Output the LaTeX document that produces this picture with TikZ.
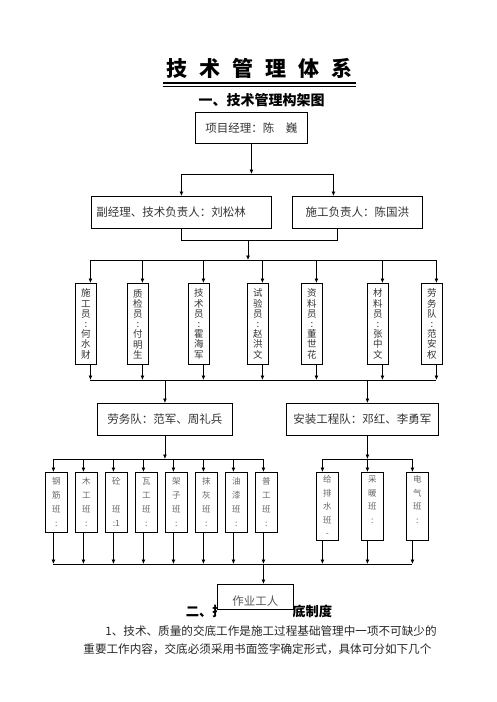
\documentclass[tikz,border=0pt]{standalone}
\usepackage{fontspec}
\usepackage{tikz}
\newfontfamily\cjk{Noto Sans CJK SC}
\usetikzlibrary{positioning,calc,arrows.meta}

\tikzset{
  box/.style={draw, rectangle, inner sep=0pt, anchor=north west, text=black!80,
    font=\cjk\fontsize{11.5}{14}\selectfont},
  vbox/.style={box, minimum width=21pt, minimum height=81pt, align=center,
    font=\cjk\fontsize{9.5}{10.2}\selectfont},
  gbox/.style={box, minimum width=22pt, align=center, text=black!60,
    font=\cjk\fontsize{8.5}{14}\selectfont},
  head/.style={font=\cjk\bfseries\fontsize{#1}{#1}\selectfont},
}

\begin{document}
\begin{tikzpicture}[x=1pt, y=-1pt, line width=0.8pt, >={Latex[length=4.5pt,width=4pt]}]
    \useasboundingbox (0,0) rectangle (496,702);

    \node [head=21] (title) at (259.5,68) {技\hspace{12pt}术\hspace{12pt}管\hspace{12pt}理\hspace{12pt}体\hspace{12pt}系};
    \coordinate (ul) at (0,83);
    \draw [line width=1.6pt] (title.west |- ul) -- (title.east |- ul);
    \draw [line width=0.6pt] ([yshift=-3pt]title.west |- ul) -- ([yshift=-3pt]title.east |- ul);
    \node [head=14] (sub1) at (261.5,100) {一、技术管理构架图};

    \node [box, minimum width=112pt, minimum height=31pt] (pm) at (195,112) {项目经理：陈　巍};
    \node [box, minimum height=32pt, text width=170pt, inner xsep=5pt, align=left] (deputy) at (91,196) {副经理、技术负责人：刘松林};
    \node [box, minimum width=130pt, minimum height=32pt] (constr) at (292,196) {施工负责人：陈国洪};

    \coordinate (y1) at (0,174);
    \coordinate (y2) at (0,240);
    \coordinate (y3) at (0,260);
    \coordinate (y4) at (0,380);
    \coordinate (y5) at (0,459);
    \coordinate (y6) at (0,564);

    \coordinate (c1) at ([xshift=-24pt]constr.north);
    \coordinate (c2) at ([xshift=-20pt]constr.south);
    \draw [->] (pm.south) -- (pm.south |- y1);
    \draw (deputy.north |- y1) -- (c1 |- y1);
    \draw [->] (deputy.north |- y1) -- (deputy.north);
    \draw [->] (c1 |- y1) -- (c1);
    \draw (deputy.south) |- (c2 |- y2) -- (c2);
    \coordinate (m2) at (248,240);
    \draw [->] (m2) -- (m2 |- y3);

    \foreach \x/\txt [count=\i] in {75/{施\\工\\员\\:\\何\\水\\财}, 127/{质\\检\\员\\:\\付\\明\\生},
        188/{技\\术\\员\\:\\霍\\海\\军}, 247/{试\\验\\员\\:\\赵\\洪\\文}, 301/{资\\料\\员\\:\\董\\世\\花},
        367/{材\\料\\员\\:\\张\\中\\文}, 421/{劳\\务\\队\\:\\范\\安\\权}} {
      \node [vbox] (s\i) at (\x,283) {\txt};
      \coordinate (t\i) at ([xshift=4.5pt]s\i.north);
      \coordinate (u\i) at ([xshift=4.5pt]s\i.south);
      \draw [->] (t\i |- y3) -- (t\i);
      \draw [->] (u\i) -- (u\i |- y4);
    }
    \draw (t1 |- y3) -- (t7 |- y3);
    \draw (u1 |- y4) -- (u7 |- y4);

    \node [box, minimum width=135pt, minimum height=32pt] (labor) at (97,403) {劳务队：范军、周礼兵};
    \node [box, minimum width=152pt, minimum height=32pt] (install) at (286,403) {安装工程队：邓红、李勇军};
    \coordinate (c3) at ([xshift=5pt]install.north);
    \coordinate (c4) at ([xshift=5pt]install.south);
    \draw [->] (labor.north |- y4) -- (labor.north);
    \draw [->] (c3 |- y4) -- (c3);
    \draw [->] (labor.south) -- (labor.south |- y5);
    \draw [->] (c4) -- (c4 |- y5);

    \foreach \txt [count=\i] in {{钢\\筋\\班\\:}, {木\\工\\班\\:}, {砼\\\mbox{}\\班\\:1}, {瓦\\工\\班\\:},
        {架\\子\\班\\:}, {抹\\灰\\班\\:}, {油\\漆\\班\\:}, {普\\工\\班\\:}} {
      \node [gbox, minimum height=60pt] (g\i) at (15+30*\i,472) {\txt};
      \coordinate (a\i) at ([xshift=-3pt]g\i.north);
      \coordinate (b\i) at ([xshift=-3pt]g\i.south);
      \draw [->] (a\i |- y5) -- (a\i);
      \draw [->] (b\i) -- (b\i |- y6);
    }
    \draw (a1 |- y5) -- (a8 |- y5);

    \foreach \x/\txt [count=\i] in {316/{给\\排\\水\\班\\-}, 361/{采\\暖\\班\\:\\\mbox{}}, 406/{电\\气\\班\\:\\\mbox{}}} {
      \node [gbox, minimum height=68pt, font=\cjk\fontsize{8.5}{13.5}\selectfont] (r\i) at (\x,472) {\txt};
      \coordinate (ra\i) at ([xshift=-5pt]r\i.north);
      \coordinate (rb\i) at ([xshift=-5pt]r\i.south);
      \draw [->] (ra\i |- y5) -- (ra\i);
      \draw [->] (rb\i) -- (rb\i |- y6);
    }
    \draw (ra1 |- y5) -- (ra3 |- y5);
    \draw (b1 |- y6) -- (rb3 |- y6);

    \node [head=13.3] (sub2) at (259,611) {二、技术、质量交底制度};
    \node [box, draw=none, fill=white, minimum width=76pt, minimum height=34pt, text=black!65] (worker) at (217,584) {作业工人};
    \draw (worker.north west) rectangle ([yshift=9pt]worker.south east);
    \coordinate (c5) at ([xshift=8pt]worker.north);
    \draw [->] (c5 |- y6) -- (c5);

    \node [anchor=west, inner sep=0pt, text=black!85, font=\cjk\fontsize{11.6}{14}\selectfont] (para1) at (105,631) {1、技术、质量的交底工作是施工过程基础管理中一项不可缺少的};
    \node [anchor=west, inner sep=0pt, text=black!85, font=\cjk\fontsize{11.6}{14}\selectfont] (para2) at (83,649) {重要工作内容，交底必须采用书面签字确定形式，具体可分如下几个};
\end{tikzpicture}
\end{document}
